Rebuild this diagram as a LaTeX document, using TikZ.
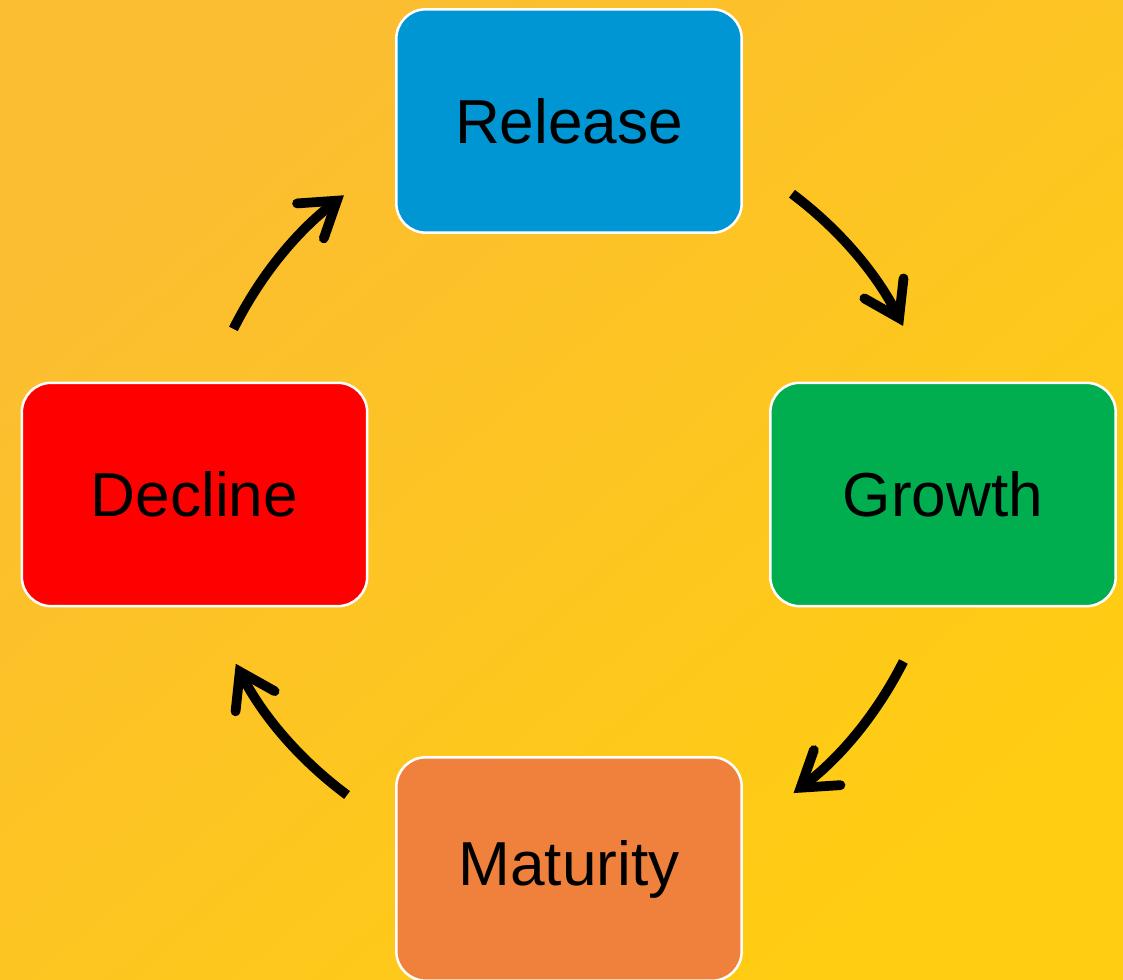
\documentclass[tikz,border=0pt]{standalone}
\usepackage{fontspec}
\setmainfont{Liberation Sans}
\usetikzlibrary{arrows.meta}
\definecolor{bgA}{RGB}{251,189,50}
\definecolor{bgB}{RGB}{255,205,18}
\definecolor{cRel}{RGB}{0,149,211}
\definecolor{cGro}{RGB}{0,174,80}
\definecolor{cDec}{RGB}{255,0,0}
\definecolor{cMat}{RGB}{240,129,61}
\tikzset{
  stage/.style={draw=white, line width=1.9pt, rounded corners=22pt,
    minimum width=259pt, minimum height=167.5pt, inner sep=0pt,
    font=\fontsize{46.6}{56}\selectfont, text=black},
  cyc/.style={line width=7.3pt, -{Straight Barb[length=25pt,width=33pt,line cap=round,line join=miter]}, bend left=13, looseness=0.88}
}
\begin{document}
\begin{tikzpicture}[x=0.75pt,y=0.75pt]
\useasboundingbox (0,0) rectangle (1123,980);
\clip (0,0) rectangle (1123,980);
\shade[top color=bgA, bottom color=bgB, shading angle=40] (0,0) rectangle (1123,980);
\coordinate (c) at (569,486);
\node[stage, fill=cRel] (rel) at (569,859) {Release};
\node[stage, fill=cGro] (gro) at (943,485.5) {Growth};
\node[stage, fill=cDec] (dec) at (194.5,485.5) {Decline};
\node[stage, fill=cMat] (mat) at (569,111) {Maturity};
\coordinate (a1s) at ([shift={(53.4:374)}]c);
\coordinate (a1e) at ([shift={(26.7:374)}]c);
\coordinate (a2s) at ([shift={(-26.6:374)}]c);
\coordinate (a2e) at ([shift={(-53.1:374)}]c);
\coordinate (a3s) at ([shift={(233.6:374)}]c);
\coordinate (a3e) at ([shift={(207:374)}]c);
\coordinate (a4s) at ([shift={(153.8:374)}]c);
\coordinate (a4e) at ([shift={(127:374)}]c);
\draw[cyc] (a1s) to (a1e);
\draw[cyc] (a2s) to (a2e);
\draw[cyc] (a3s) to (a3e);
\draw[cyc] (a4s) to (a4e);
\end{tikzpicture}
\end{document}
